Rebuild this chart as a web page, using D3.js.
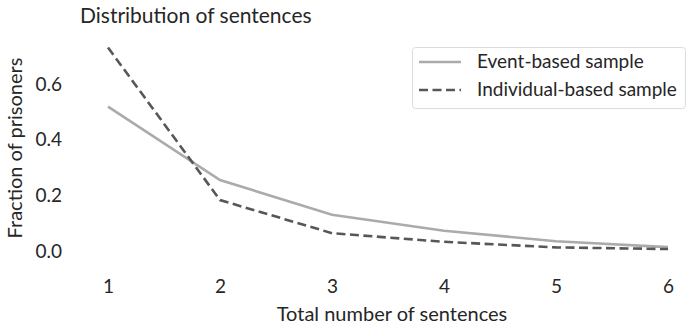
<!DOCTYPE html>
<html>
<head>
<meta charset="utf-8">
<script src="https://cdn.jsdelivr.net/npm/d3@7"></script>
<style>
  html, body { margin: 0; padding: 0; background: #fff; }
  svg { display: block; font-family: Lato, "Noto Sans", sans-serif; }
</style>
</head>
<body>
<svg id="chart" width="689" height="331"></svg>
<script>
// Number of sentences per prisoner
const sentences = [1, 2, 3, 4, 5, 6];
// Fraction of prisoners, event-based sample
const eventBased = [0.519, 0.255, 0.130, 0.073, 0.035, 0.014];
// Fraction of prisoners, individual-based sample
const individualBased = [0.731, 0.183, 0.064, 0.033, 0.013, 0.007];
const yTicks = [0.0, 0.2, 0.4, 0.6];
const seriesNames = ["Event-based sample", "Individual-based sample"];

const svg = d3.select("#chart");
const textColor = "#262626";
const fontStack = "Lato, 'Noto Sans', sans-serif";

const x = d3.scaleLinear().domain([1, 6]).range([108, 668]);
const y = d3.scaleLinear().domain([0, 0.6]).range([251, 84]);

// Y axis (tick labels only)
const yAxis = d3.axisLeft(y).tickValues(yTicks).tickFormat(d3.format(".1f")).tickSize(0).tickPadding(0);
const gy = svg.append("g").attr("transform", "translate(62,0)").call(yAxis);
gy.select(".domain").remove();
gy.selectAll("text").attr("font-size", 19).attr("fill", textColor).attr("font-family", fontStack);

// X axis (tick labels only)
const xAxis = d3.axisBottom(x).tickValues(sentences).tickFormat(d3.format("d")).tickSize(0).tickPadding(0);
const gx = svg.append("g").attr("transform", "translate(0,279.5)").call(xAxis);
gx.select(".domain").remove();
gx.selectAll("text").attr("font-size", 19).attr("fill", textColor).attr("font-family", fontStack);

// Lines
const line = d3.line().x((d, i) => x(sentences[i])).y(d => y(d));
svg.append("path").datum(eventBased)
  .attr("d", line).attr("fill", "none")
  .attr("stroke", "#ababab").attr("stroke-width", 2.6);
svg.append("path").datum(individualBased)
  .attr("d", line).attr("fill", "none")
  .attr("stroke", "#575757").attr("stroke-width", 2.6)
  .attr("stroke-dasharray", "9,4.5");

// Titles
svg.append("text").attr("x", 80).attr("y", 22.5)
  .attr("font-size", 21).attr("fill", textColor)
  .text("Distribution of sentences");
svg.append("text").attr("x", 392).attr("y", 321)
  .attr("text-anchor", "middle").attr("font-size", 20).attr("fill", textColor)
  .text("Total number of sentences");
svg.append("text")
  .attr("transform", "translate(22,148) rotate(-90)")
  .attr("text-anchor", "middle").attr("font-size", 20).attr("fill", textColor)
  .text("Fraction of prisoners");

// Legend
const legend = svg.append("g");
legend.append("rect").attr("x", 412.5).attr("y", 47.5).attr("width", 273).attr("height", 61)
  .attr("rx", 3).attr("fill", "#fff").attr("stroke", "#dcdcdc").attr("stroke-width", 1);
const legendStyles = [
  { stroke: "#ababab", dash: null },
  { stroke: "#575757", dash: "9,4.5" }
];
seriesNames.forEach((name, i) => {
  const ly = 62 + i * 28;
  legend.append("line").attr("x1", 419).attr("x2", 461).attr("y1", ly).attr("y2", ly)
    .attr("stroke", legendStyles[i].stroke).attr("stroke-width", 2.6)
    .attr("stroke-dasharray", legendStyles[i].dash);
  legend.append("text").attr("x", 477).attr("y", ly + 6)
    .attr("font-size", 19).attr("fill", textColor).text(name);
});
</script>
</body>
</html>
